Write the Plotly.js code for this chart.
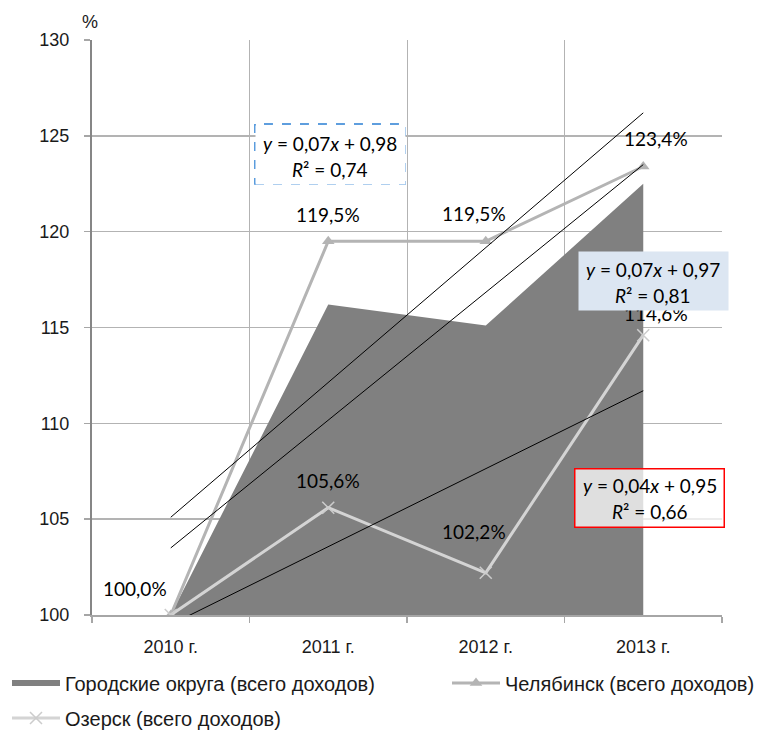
<!DOCTYPE html>
<html>
<head>
<meta charset="utf-8">
<script src="https://cdn.plot.ly/plotly-3.0.1.min.js"></script>
<style>html,body{margin:0;padding:0;background:#fff;}#chart{width:759px;height:731px;}</style>
</head>
<body>
<div id="chart"></div>
<script>
// ---- data ----
const categories = ['2010 г.', '2011 г.', '2012 г.', '2013 г.'];
const areaName = 'Городские округа (всего доходов)';
const chelName = 'Челябинск (всего доходов)';
const ozName = 'Озерск (всего доходов)';
const areaValues = [100.0, 116.2, 115.1, 122.5];
const chelValues = [100.0, 119.5, 119.5, 123.4];
const ozValues = [100.0, 105.6, 102.2, 114.6];
const chelLabels = ['100,0%', '119,5%', '119,5%', '123,4%'];
const ozLabels = ['', '105,6%', '102,2%', '114,6%'];
// trend lines (values at 2010 and 2013)
const trendX = [0, 3];
const trendChel = [105.1, 126.2];
const trendArea = [103.5, 123.5];
const trendOz = [99.5, 111.7];
const eqLines = [
  ['<i>y</i> = 0,07<i>x</i> + 0,98', '<i>R</i>² = 0,74'],
  ['<i>y</i> = 0,07<i>x</i> + 0,97', '<i>R</i>² = 0,81'],
  ['<i>y</i> = 0,04<i>x</i> + 0,95', '<i>R</i>² = 0,66']
];

const xIdx = categories.map((c, i) => i);
const labelFont = {family: 'Lato, "DejaVu Sans", sans-serif', size: 19, color: '#000'};

const traces = [
  {x: xIdx, y: areaValues, name: areaName, type: 'scatter', mode: 'none',
   fill: 'tozeroy', fillcolor: '#808080', hoverinfo: 'skip', legend: 'legend'},
  {x: xIdx, y: chelValues, name: chelName, type: 'scatter', mode: 'lines+markers',
   line: {color: '#b4b4b4', width: 3}, legend: 'legend2',
   marker: {symbol: 'triangle-up', size: 11, color: '#b4b4b4'}},
  {x: xIdx, y: ozValues, name: ozName, type: 'scatter', mode: 'lines+markers',
   line: {color: '#d4d4d4', width: 3}, legend: 'legend3',
   marker: {symbol: 'x-thin', size: 12, color: '#cccccc', line: {color: '#cccccc', width: 1.5}}},
  {x: trendX, y: trendChel, type: 'scatter', mode: 'lines', showlegend: false,
   line: {color: '#000', width: 1}, hoverinfo: 'skip'},
  {x: trendX, y: trendArea, type: 'scatter', mode: 'lines', showlegend: false,
   line: {color: '#000', width: 1}, hoverinfo: 'skip'},
  {x: trendX, y: trendOz, type: 'scatter', mode: 'lines', showlegend: false,
   line: {color: '#000', width: 1}, hoverinfo: 'skip'}
];

const chelShifts = [[-36, 27], [0, 27], [-12, 28], [13, 28]];
const ozShifts = [[0, 0], [0, 27], [-12, 41], [13, 22]];
const annotations = [];
chelLabels.forEach((t, i) => {
  annotations.push({x: xIdx[i], y: chelValues[i], xref: 'x', yref: 'y', text: t, showarrow: false,
    xanchor: 'center', yanchor: 'middle',
    xshift: chelShifts[i][0], yshift: chelShifts[i][1], font: labelFont});
});
ozLabels.forEach((t, i) => {
  if (!t) return;
  annotations.push({x: xIdx[i], y: ozValues[i], xref: 'x', yref: 'y', text: t, showarrow: false,
    xanchor: 'center', yanchor: 'middle',
    xshift: ozShifts[i][0], yshift: ozShifts[i][1], font: labelFont});
});
// equation boxes: background box, then two text lines
const eqFont = {family: 'Lato, "DejaVu Sans", sans-serif', size: 19, color: '#000'};
const boxes = [
  {x: 0.3778, y: 0.8, w: 149, h: 58, bg: '#ffffff', border: null, lineY: -1.5},
  {x: 0.8905, y: 0.5809, w: 149, h: 58, bg: '#dce6f2', border: null, lineY: -2},
  {x: 0.8857, y: 0.2043, w: 148, h: 57, bg: 'rgba(255,255,255,0.75)', border: '#ff0000', lineY: -1}
];
boxes.forEach((b, i) => {
  const box = {xref: 'paper', yref: 'paper', x: b.x, y: b.y, xanchor: 'center', yanchor: 'middle',
    text: ' ', showarrow: false, font: eqFont, width: b.w, height: b.h, bgcolor: b.bg, borderpad: 0};
  if (b.border) { box.bordercolor = b.border; box.borderwidth = 1.5; }
  annotations.push(box);
  eqLines[i].forEach((t, j) => {
    annotations.push({xref: 'paper', yref: 'paper', x: b.x, y: b.y, xanchor: 'center', yanchor: 'middle',
      text: t, showarrow: false, font: eqFont, yshift: (j === 0 ? 13 : -13) + b.lineY});
  });
});
annotations.push({xref: 'paper', yref: 'paper', x: -0.003, y: 1.032, text: '%', showarrow: false,
  xanchor: 'center', yanchor: 'middle', font: {family: 'Liberation Sans, Arial, sans-serif', size: 18, color: '#1a1a1a'}});

const legendBase = {orientation: 'h', xref: 'container', yref: 'container', xanchor: 'left', yanchor: 'middle',
  font: {family: 'Liberation Sans, Arial, sans-serif', size: 20, color: '#1a1a1a'},
  bgcolor: 'rgba(0,0,0,0)', itemwidth: 48};

const layout = {
  width: 759, height: 731,
  margin: {l: 92, r: 37, t: 40, b: 116, autoexpand: false},
  paper_bgcolor: '#ffffff', plot_bgcolor: '#ffffff',
  font: {family: 'Liberation Sans, Arial, sans-serif', size: 18, color: '#1a1a1a'},
  xaxis: {
    range: [-0.5, 3.5], tickvals: xIdx, ticktext: categories, showgrid: false, zeroline: false,
    ticks: '', showline: true, linecolor: '#a6a6a6', linewidth: 1.5,
    tickfont: {size: 18}, fixedrange: true, ticklabelstandoff: 15,
    minor: {tick0: -0.5, dtick: 1, showgrid: true, gridcolor: '#b3b3b3', gridwidth: 1,
            ticks: 'outside', ticklen: 6, tickcolor: '#a6a6a6', tickwidth: 1.5}
  },
  yaxis: {
    range: [100, 130], dtick: 5, showgrid: true, gridcolor: '#b3b3b3', gridwidth: 1.5,
    zeroline: false, showline: true, linecolor: '#868686', linewidth: 2,
    ticks: 'outside', ticklen: 6, tickcolor: '#a6a6a6', tickwidth: 1.5,
    tickfont: {size: 18}, fixedrange: true, ticklabelstandoff: 11
  },
  shapes: [
    {type: 'rect', xref: 'paper', yref: 'paper', x0: 0.2587, x1: 0.4968, y0: 0.7496, y1: 0.8539,
     line: {color: '#2a7fd4', width: 1.5, dash: 'dash'}, fillcolor: 'rgba(0,0,0,0)', layer: 'above'}
  ],
  annotations: annotations,
  showlegend: true,
  legend: Object.assign({}, legendBase, {x: 7 / 759, y: (731 - 683) / 731}),
  legend2: Object.assign({}, legendBase, {x: 447 / 759, y: (731 - 683) / 731}),
  legend3: Object.assign({}, legendBase, {x: 7 / 759, y: (731 - 718) / 731}),
  hovermode: false
};

Plotly.newPlot('chart', traces, layout, {displayModeBar: false, staticPlot: true});
</script>
</body>
</html>
